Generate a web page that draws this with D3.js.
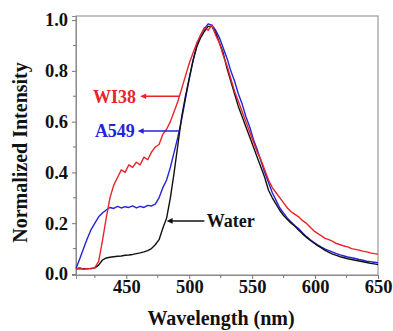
<!DOCTYPE html>
<html><head><meta charset="utf-8">
<script src="https://cdn.jsdelivr.net/npm/d3@7"></script>
<style>body{margin:0;background:#fff}svg{display:block}</style>
</head><body>
<svg id="c" width="393" height="331"></svg>
<script>
const wavelengths = [410,413,416,419,422,425,428,431,434,437,440,443,446,449,452,455,458,461,464,467,470,473,476,479,482,485,488,491,494,497,500,503,506,509,512,515,518,521,524,527,530,533,536,539,542,545,548,551,554,557,560,563,566,569,572,575,578,581,584,587,590,593,596,599,602,605,608,611,614,617,620,623,626,629,632,635,638,641,644,647,650];

const water = [0.02,0.02,0.021,0.02,0.022,0.024,0.035,0.055,0.063,0.066,0.068,0.07,0.071,0.074,0.075,0.077,0.08,0.083,0.087,0.092,0.1,0.115,0.135,0.18,0.22,0.3,0.4,0.51,0.62,0.7,0.77,0.84,0.895,0.93,0.955,0.975,0.975,0.95,0.91,0.87,0.81,0.76,0.71,0.66,0.62,0.58,0.54,0.5,0.46,0.42,0.38,0.33,0.3,0.275,0.25,0.23,0.215,0.2,0.188,0.172,0.158,0.145,0.133,0.122,0.112,0.103,0.093,0.085,0.078,0.073,0.068,0.064,0.06,0.057,0.054,0.051,0.048,0.045,0.042,0.04,0.037];

const a549 = [0.022,0.06,0.1,0.14,0.175,0.2,0.225,0.24,0.252,0.262,0.258,0.266,0.26,0.265,0.262,0.268,0.26,0.266,0.262,0.27,0.268,0.275,0.3,0.34,0.37,0.42,0.48,0.54,0.61,0.69,0.77,0.84,0.9,0.94,0.965,0.985,0.98,0.96,0.93,0.89,0.85,0.8,0.76,0.71,0.67,0.62,0.58,0.53,0.49,0.445,0.4,0.36,0.32,0.29,0.26,0.24,0.22,0.205,0.19,0.178,0.162,0.148,0.136,0.125,0.115,0.106,0.098,0.092,0.086,0.08,0.075,0.071,0.067,0.064,0.061,0.057,0.054,0.05,0.048,0.046,0.044];

const wi38 = [0.02,0.025,0.018,0.022,0.02,0.025,0.05,0.13,0.22,0.3,0.35,0.38,0.41,0.4,0.43,0.42,0.44,0.43,0.46,0.45,0.48,0.5,0.51,0.55,0.57,0.6,0.64,0.68,0.73,0.78,0.83,0.87,0.91,0.94,0.97,0.96,0.98,0.94,0.91,0.86,0.82,0.77,0.72,0.68,0.64,0.6,0.56,0.52,0.48,0.45,0.41,0.37,0.34,0.32,0.3,0.28,0.26,0.245,0.235,0.225,0.21,0.2,0.185,0.17,0.16,0.15,0.14,0.135,0.128,0.12,0.115,0.11,0.107,0.1,0.097,0.094,0.09,0.087,0.083,0.08,0.078];

const seriesNames = ["A549","Water","WI38"];
const seriesColors = ["#2323d8","#111111","#e8232a"];
const xTicks = [450,500,550,600,650];
const yTicks = [0.0,0.2,0.4,0.6,0.8,1.0];

// annotations: label, text start (nm), arrow from (nm), arrow to (nm), level
const annLabels = ["WI38","A549","Water"];
const annTextX = [423.5,425,514];
const annArrowFrom = [461,459,512];
const annArrowTo = [492.5,492.5,482];
const annLevel = [0.70,0.563,0.209];
const annColors = ["#e8232a","#2323d8","#111111"];

const svg = d3.select("#c");
const L=76, R=378, T=16, B=275;
const x = d3.scaleLinear().domain([410,650]).range([L,R]);
const y = d3.scaleLinear().domain([-0.004,1.016]).range([B,T]);
const font = "'Liberation Serif','Times New Roman',serif";

// frame
svg.append("rect").attr("x",L).attr("y",T).attr("width",R-L).attr("height",B-T)
  .attr("fill","none").attr("stroke","#9a9a9a").attr("stroke-width",1.2);

// x axis
const xMinor = [425,475,525,575,625];
const gx = svg.append("g").attr("transform",`translate(0,${B})`);
gx.call(d3.axisBottom(x).tickValues(xTicks).tickSize(4).tickFormat(d3.format("d")));
gx.call(g=>g.select(".domain").attr("stroke","#8a8a8a"));
gx.selectAll(".tick line").attr("stroke","#777");
gx.selectAll("text").attr("font-family",font).attr("font-weight","bold").attr("font-size",18.5).attr("fill","#111").attr("dy","0.3em").attr("y",12);
gx.selectAll(".minor").data(xMinor).enter().append("line")
  .attr("x1",d=>x(d)).attr("x2",d=>x(d)).attr("y1",0).attr("y2",3).attr("stroke","#777");

// y axis
const yMinor = [0.1,0.3,0.5,0.7,0.9];
const gy = svg.append("g").attr("transform",`translate(${L},0)`);
gy.call(d3.axisLeft(y).tickValues(yTicks).tickSize(4).tickFormat(d3.format(".1f")));
gy.call(g=>g.select(".domain").attr("stroke","#8a8a8a"));
gy.selectAll(".tick line").attr("stroke","#777");
gy.selectAll("text").attr("font-family",font).attr("font-weight","bold").attr("font-size",18.5).attr("fill","#111").attr("x",-8);
gy.selectAll(".minor").data(yMinor).enter().append("line")
  .attr("x1",0).attr("x2",-3).attr("y1",d=>y(d)).attr("y2",d=>y(d)).attr("stroke","#777");

// lines
const data = [a549, water, wi38];
const line = d3.line().x((d,i)=>x(wavelengths[i])).y(d=>y(d));
data.forEach((s,k)=>{
  svg.append("path").datum(s).attr("d",line).attr("fill","none")
    .attr("stroke",seriesColors[k]).attr("stroke-width",1.4).attr("stroke-linejoin","round");
});

// annotations
annLabels.forEach((lab,i)=>{
  const yy = y(annLevel[i]);
  svg.append("text").attr("x",x(annTextX[i])).attr("y",yy).attr("dy","0.35em")
    .attr("font-family",font).attr("font-weight","bold").attr("font-size",18)
    .attr("fill",annColors[i]).text(lab);
  const xs = x(annArrowFrom[i]), xe = x(annArrowTo[i]);
  const head = Math.min(xs,xe);
  const tail = Math.max(xs,xe);
  svg.append("line").attr("x1",head+4).attr("x2",tail).attr("y1",yy).attr("y2",yy)
    .attr("stroke",annColors[i]).attr("stroke-width",1.5);
  svg.append("path").attr("d",`M${head},${yy} L${head+6},${yy-2.8} L${head+6},${yy+2.8} Z`)
    .attr("fill",annColors[i]);
});

// axis titles
svg.append("text").attr("x",221).attr("y",325).attr("text-anchor","middle")
  .attr("font-family",font).attr("font-weight","bold").attr("font-size",20).attr("fill","#111")
  .text("Wavelength (nm)");
svg.append("text").attr("transform",`translate(27,${(57+248)/2}) rotate(-90)`).attr("text-anchor","middle")
  .attr("font-family",font).attr("font-weight","bold").attr("font-size",20).attr("fill","#111")
  .text("Normalized Intensity");
</script>
</body></html>
